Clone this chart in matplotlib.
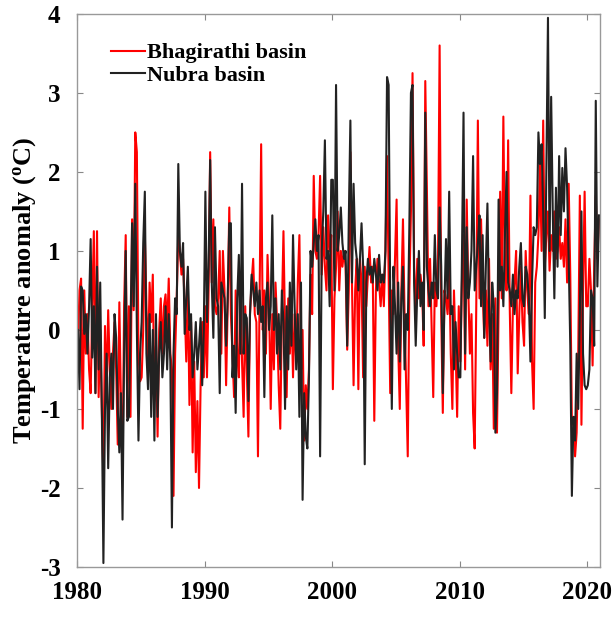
import numpy as np
import matplotlib
matplotlib.use("Agg")
import matplotlib.pyplot as plt

plt.rcParams["font.family"] = ["Liberation Serif", "DejaVu Serif"]
plt.rcParams["font.weight"] = "bold"
plt.rcParams["mathtext.fontset"] = "custom"
plt.rcParams["mathtext.rm"] = "Liberation Serif:bold"
plt.rcParams["mathtext.it"] = "Liberation Serif:bold"
plt.rcParams["axes.unicode_minus"] = False

# 8 readings per year, 1980-2020
bhagirathi = [
    -0.2, 0.5, 0.65, -1.25, 0.5, -0.3, 0.2, -0.5,
    -0.8, 0.3, 1.25, -0.8, 1.25, -0.85, 0.0, -1.0,
    -1.9, 0.05, -0.8, 0.25, -0.5, -1.0, -0.3, 0.1,
    -0.5, -1.45, 0.35, -0.9, -1.8, 0.3, 1.2, -1.1,
    0.3, -1.1, 1.4, 0.25, 2.5, 2.25, -0.3, -0.65,
    -0.6, 0.0, 1.2, 0.3, -0.4, 0.6, 0.1, 0.7,
    -0.9, -0.2, -1.35, 0.0, 0.4, -0.3, 0.3, 0.45,
    0.0, 0.65, -0.3, -0.5, -2.1, -0.3, 0.4, 1.2,
    1.0, 0.7, 0.9, 0.3, -0.4, 0.5, -0.95, 0.1,
    -1.55, -0.4, -1.8, -0.9, -2.0, -0.7, 0.1, -0.6,
    0.3, -0.6, 0.5, 2.25, 0.6, 1.4, 0.3, 0.2,
    0.4, 1.0, -0.3, 1.0, 0.5, -0.7, 0.3, 1.55,
    0.2, -0.3, -0.85, 0.5, -0.3, -0.6, 0.7, -0.4,
    -1.1, 0.3, -0.5, -1.35, 0.2, 0.6, 0.9, 0.2,
    0.1, -1.6, 0.4, 2.35, 0.0, 0.5, -0.3, 0.95,
    0.3, -1.0, 0.2, -0.5, 0.6, 0.1, -0.7, -1.25,
    0.2, 1.25, 0.0, -0.85, 0.4, -0.3, 0.3, -0.6,
    0.2, -0.4, 0.6, 1.2, -0.5, 0.0, -1.4, -0.7,
    -1.0, -0.5, 0.7, 0.2, 1.95, 1.0, 0.9, 1.2,
    1.95, 0.7, 1.3, 0.8, 0.5, 1.45, 1.0, 1.2,
    -0.75, 0.4, 0.8, 1.5, 0.5, 1.0, 0.8, 1.0,
    0.8, -0.25, 0.5, 2.25, 0.6, -0.7, 0.5, 0.9,
    -0.75, 0.9, 0.6, -0.6, 0.8, 0.3, 0.7, 1.05,
    0.6, 0.8, -1.15, 0.5, 0.9, 0.6, 0.3, 0.7,
    0.3, 1.0, 2.2, 0.7, -0.8, 0.5, 0.2, 0.9,
    1.65, -0.2, -1.0, 0.5, 1.4, 0.2, -0.7, -1.6,
    0.5, 1.5, 3.25, 0.8, 0.2, 0.9, 0.4, 0.7,
    0.5, -0.2, 3.15, 1.8, 0.3, 0.9, 0.0, -0.85,
    0.6, 0.3, 0.9, 3.6, 0.2, -1.05, 0.5, 0.4,
    0.2, 0.8, -0.3, -1.0, 0.5, -0.2, -1.1, 0.3,
    -0.4, 0.6, 1.2, -0.5, 1.65, 0.5, -0.3, 0.2,
    -1.05, -1.5, 0.3, 2.65, 0.4, 1.4, 0.5, -0.1,
    0.5, -0.2, 0.9, -0.5, 0.2, -1.25, 0.4, -1.3,
    0.2, 1.75, 0.4, 2.7, 0.8, 0.5, 2.4, 0.3,
    -0.8, 0.3, 0.6, 1.0, -0.55, 0.2, 0.8, 0.1,
    -0.2, 1.0, 0.5, 0.2, 1.7, -0.4, -1.0, 0.6,
    0.8, 1.2, 2.1, 1.0, 2.65, 0.8, 1.2, 1.5,
    0.75, 1.2, 1.0, 1.5, 0.9, 1.0, 1.3, 0.9,
    1.1, 0.8, 1.4, 0.6, 1.85, 0.7, -1.2, -1.1,
    -1.6, -1.3, -0.3, 1.7, -1.2, 0.5, 1.75, 0.3,
    0.3, 0.9, 0.5, -0.45, 0.8, 1.7, 0.9, 1.4,
]

nubra = [
    0.0, -0.75, 0.55, 0.5, -0.05, 0.2, -0.3, 0.3,
    1.15, -0.35, 0.3, -0.8, 0.8, -0.5, 0.6, -1.0,
    -2.95, -1.0, -0.3, -1.75, -0.6, -0.3, -1.0, 0.2,
    -0.1, -1.0, -1.55, -0.8, -2.4, -0.3, 1.0, -1.15,
    -1.1, 0.0, 1.35, 0.3, 1.85, 0.0, -1.4, -0.3,
    0.1, 1.1, 1.75, -0.3, -0.75, 0.2, -1.1, 0.0,
    -1.4, 0.2, -1.1, -0.3, 0.1, -0.6, -0.3, 0.3,
    -0.5, 0.2, -0.4, -2.5, -0.3, 0.4, 0.2, 2.1,
    1.0, 0.8, 1.1, -0.05, 0.4, 0.8, 0.0, 0.2,
    -0.6, -0.3, 0.1, -0.5, -0.2, 0.15, -0.7, 0.0,
    1.75, 0.1, 0.8, 2.15, 0.6, -0.1, 1.3, 0.4,
    0.3, -0.8, 0.6, 0.5, 0.4, -0.2, 0.4, 1.35,
    1.35, -0.6, -0.2, -1.05, 0.4, 0.95, -0.3, 1.85,
    -0.3, 0.2, 0.15, -0.9, 0.2, 0.7, 0.5, 0.3,
    0.6, 0.2, 0.5, 0.1, 0.3, -0.85, 0.4, 0.6,
    0.0, 0.3, 1.45, 0.0, 0.4, -0.3, 0.2, -0.5,
    0.5, 0.1, -1.0, 0.3, -0.5, 0.6, -0.2, 1.2,
    0.3, -0.5, 0.2, -1.1, 0.6, -2.15, -0.8, -1.35,
    -1.5, -0.6, 1.0, 0.8, 1.1, 1.4, 1.0, 1.2,
    -1.6, 1.0, 1.5, 2.4, 0.9, 1.0, 0.3, 1.9,
    1.9, 0.5, 3.1, 1.0, 1.2, 1.55, 1.1, 0.9,
    1.0, -0.2, 1.4, 2.65, 0.6, 1.85, 1.1, 0.9,
    0.5, 0.9, 1.35, 0.8, -1.7, 0.6, 0.9, 0.7,
    0.8, 0.6, 0.9, 0.7, 0.5, 0.95, 0.6, 0.7,
    0.6, 1.0, 3.2, 3.1, 0.4, -1.0, 0.8, 0.3,
    -0.3, 0.6, -0.4, 0.4, 0.8, -0.5, 0.2, 0.0,
    1.3, 3.0, 3.1, 0.6, -0.2, 0.5, 1.0, 0.3,
    0.6, 0.0, 2.75, 0.8, 0.5, 0.3, 0.6, 0.4,
    1.2, 0.5, 0.4, 1.55, 0.8, -0.8, 0.3, 1.15,
    0.4, 1.75, 0.2, 0.3, -0.5, 0.1, -0.3, -0.6,
    -0.6, 0.9, 2.75, -0.3, 1.3, 0.4, 0.6, 1.0,
    2.2, 0.5, 0.8, 1.1, 1.45, 0.3, 1.2, -0.1,
    0.8, 1.6, 0.3, -0.4, 0.6, 0.3, -1.3, -0.8,
    1.65, 0.5, 0.8, 0.3, 1.2, 2.0, 0.6, 0.5,
    0.3, 0.7, 0.2, 0.5, 0.4, 0.8, 1.1, 0.4,
    0.3, 0.8, 0.7, 0.4, -0.4, 0.6, 1.3, 1.2,
    1.3, 2.5, 2.1, 2.35, 1.5, 0.15, 2.0, 3.95,
    1.0, 2.95, 1.5, 0.4, 1.8, 0.8, 2.2, 1.2,
    2.05, 1.5, 2.3, 1.8, 0.9, -0.2, -2.1, -1.1,
    -1.4, -0.3, -1.0, 0.2, 1.5, -0.3, -0.7, -0.75,
    -0.7, -0.5, 0.5, 0.4, -0.2, 2.9, 0.55, 1.45,
]

years = 1980 + (np.arange(len(bhagirathi)) + 0.5) / 8.0

fig = plt.figure(figsize=(6.12, 6.3), dpi=100)
ax = fig.add_axes([0.126, 0.100, 0.854, 0.878])

ax.plot(years, bhagirathi, color="#ff0000", lw=1.5, label="Bhagirathi basin")
ax.plot(years, nubra, color="#222222", lw=1.5, label="Nubra basin")

ax.set_xlim(1980, 2021)
ax.set_ylim(-3, 4)
ax.set_xticks([1980, 1990, 2000, 2010, 2020])
ax.set_yticks(range(-3, 5))
ax.tick_params(direction="in", top=True, right=True, length=4, color="#888888",
               labelsize=18)
ax.tick_params(axis="x", pad=10)
ax.tick_params(axis="y", pad=12)
for s in ax.spines.values():
    s.set_color("#999999")
    s.set_linewidth(1.0)

ax.set_ylabel(r"Temperature anomaly ($\mathrm{^{o}}$C)", fontsize=19,
              fontweight="bold", labelpad=1)

leg = ax.legend(loc="upper left", frameon=False, fontsize=16, handlelength=1.5,
                handletextpad=0.1, labelspacing=0.1, borderaxespad=0.9,
                bbox_to_anchor=(0.01, 1.0))

fig.savefig("out.png", dpi=100)
